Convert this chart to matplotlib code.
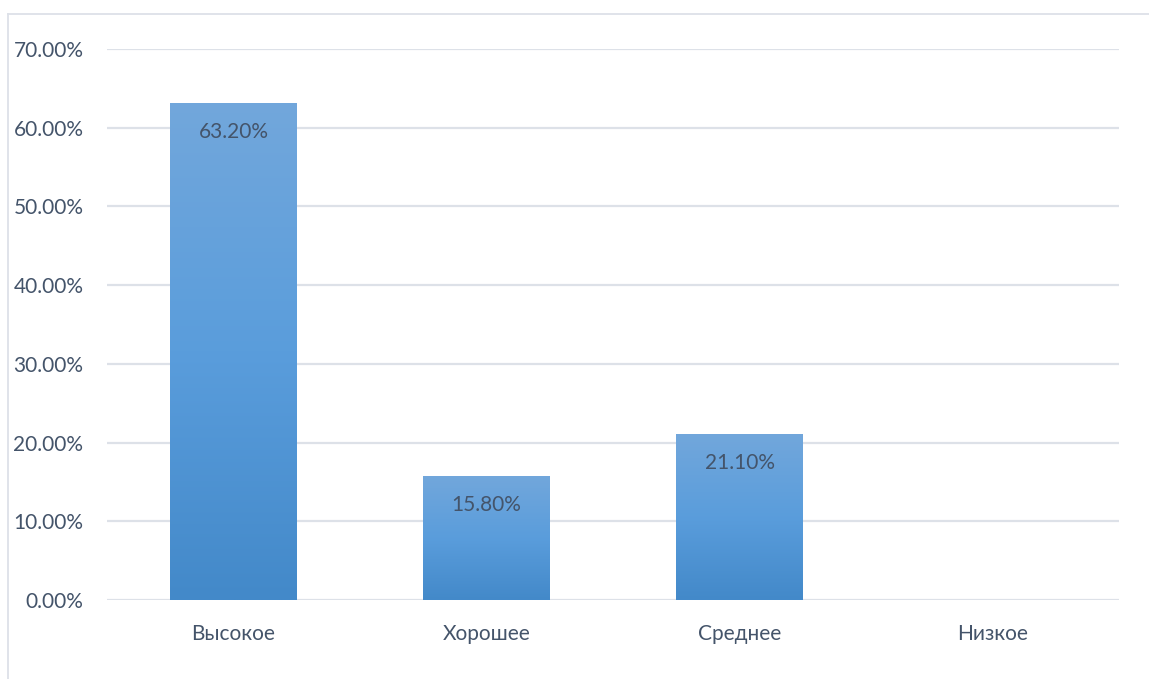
import numpy as np
import matplotlib.pyplot as plt
from matplotlib.lines import Line2D
from matplotlib.colors import LinearSegmentedColormap

categories = ["Высокое", "Хорошее", "Среднее", "Низкое"]
values = [0.632, 0.158, 0.211, 0.0]
labels = ["63.20%", "15.80%", "21.10%", ""]

W, H = 1149, 679
text_col = "#44546A"
grid_col = "#DDE1E8"

plt.rcParams['font.family'] = ['Lato', 'DejaVu Sans']

fig = plt.figure(figsize=(W / 100, H / 100), dpi=100)
fig.patch.set_facecolor("white")

# рамка диаграммы (видны только верх и левый край)
fig.lines.append(Line2D([8 / W, 1.1], [1 - 14 / H] * 2, transform=fig.transFigure,
                        color="#DDE1E8", linewidth=1.3))
fig.lines.append(Line2D([8 / W] * 2, [-0.1, 1 - 14 / H], transform=fig.transFigure,
                        color="#DDE1E8", linewidth=1.3))

ax = fig.add_axes([107 / W, 1 - 600 / H, (1119 - 107) / W, (600 - 49) / H])
x = np.arange(len(categories))
bars = ax.bar(x, values, width=0.5, color="none", edgecolor="none", zorder=3)

# градиент внутри столбцов
cmap = LinearSegmentedColormap.from_list("g", ["#4389C9", "#5A9DDC", "#72A7DB"])
grad = np.linspace(0, 1, 256).reshape(-1, 1)
for b in bars:
    if b.get_height() <= 0:
        continue
    im = ax.imshow(grad, cmap=cmap, aspect="auto", origin="lower",
                   extent=[b.get_x(), b.get_x() + b.get_width(), 0, b.get_height()],
                   zorder=3)
    im.set_clip_path(b)

for b, lab in zip(bars, labels):
    if lab:
        ax.annotate(lab, (b.get_x() + b.get_width() / 2, b.get_height()),
                    xytext=(0, -29), textcoords="offset pixels",
                    ha="center", va="center", fontsize=15, color=text_col, zorder=4)

ax.set_xlim(-0.5, len(categories) - 0.5)
ax.set_ylim(0, 0.7)
ax.set_yticks(np.arange(0, 0.71, 0.1))
ax.set_yticklabels([f"{v * 100:.2f}%" for v in np.arange(0, 0.71, 0.1)])
ax.set_xticks(x)
ax.set_xticklabels(categories)
ax.tick_params(axis="both", length=0, labelsize=15, labelcolor=text_col)
ax.tick_params(axis="y", pad=17)
ax.tick_params(axis="x", pad=17)
ax.grid(axis="y", color=grid_col, linewidth=1.6, zorder=0)
ax.set_axisbelow(True)
for s in ax.spines.values():
    s.set_visible(False)
ax.set_facecolor("white")

fig.savefig("out.png", dpi=100)
